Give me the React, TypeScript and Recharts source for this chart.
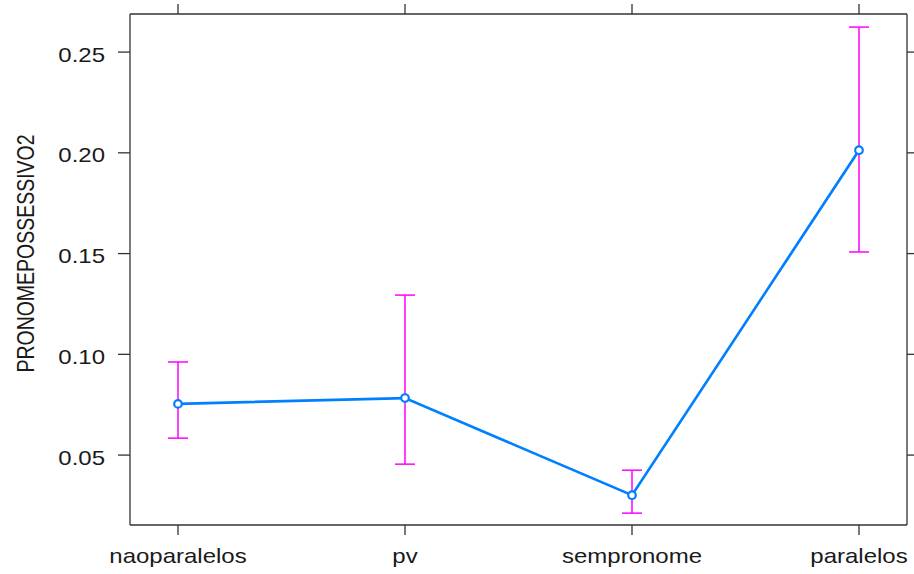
import * as React from "react";
import { ErrorBar, Line, LineChart, XAxis, YAxis } from "recharts";

// Effect plot: estimate of PRONOMEPOSSESSIVO2 per group, with
// confidence interval whiskers (lattice-style box axes).

const CATEGORIES = ["naoparalelos", "pv", "sempronome", "paralelos"];
const ESTIMATES = [0.0754, 0.0783, 0.0301, 0.2013];
const LOWER = [0.0584, 0.0455, 0.0212, 0.1508];
const UPPER = [0.0962, 0.1294, 0.0425, 0.2624];
const Y_TICKS = [0.05, 0.1, 0.15, 0.2, 0.25];
const Y_DOMAIN: [number, number] = [0.0153, 0.2689];

const BLUE = "#0080ff";
const MAGENTA = "#ff00ff";
const AXIS = "#333333";
const TEXT = "#1a1a1a";
const FONT = "'Liberation Sans', Arial, sans-serif";
const STRETCH = 1.2;

const rows = CATEGORIES.map((cat, i) => ({
  cat,
  value: ESTIMATES[i],
  err: [ESTIMATES[i] - LOWER[i], UPPER[i] - ESTIMATES[i]],
}));

function BottomTick(props: any) {
  const { x, y, payload } = props;
  return (
    <text
      transform={`translate(${x},${y + 28}) scale(${STRETCH},1)`}
      textAnchor="middle"
      fontFamily={FONT}
      fontSize={20}
      fill={TEXT}
    >
      {payload.value}
    </text>
  );
}

function LeftTick(props: any) {
  const { y, payload } = props;
  return (
    <text
      transform={`translate(105,${y + 9.5}) scale(${STRETCH},1)`}
      textAnchor="end"
      fontFamily={FONT}
      fontSize={20}
      fill={TEXT}
    >
      {payload.value.toFixed(2)}
    </text>
  );
}

function YLabel(props: any) {
  const { viewBox } = props;
  const cy = viewBox.y + viewBox.height / 2 - 16;
  return (
    <text
      transform={`translate(34,${cy}) scale(${STRETCH},1) rotate(-90)`}
      textAnchor="middle"
      fontFamily={FONT}
      fontSize={19.5}
      fill={TEXT}
    >
      PRONOMEPOSSESSIVO2
    </text>
  );
}

const blank = () => "";

export default function App() {
  return (
    <div style={{ position: "absolute", left: 0, top: 0, background: "#fff" }}>
      <LineChart
        width={914}
        height={574}
        data={rows}
        margin={{ top: 13, right: 6, bottom: 0, left: 0 }}
      >
        <XAxis
          xAxisId="bottom"
          dataKey="cat"
          scale="point"
          padding={{ left: 48, right: 48 }}
          height={49}
          tickSize={10}
          tickMargin={0}
          tick={BottomTick}
          stroke={AXIS}
          strokeWidth={1.3}
          interval={0}
        />
        <XAxis
          xAxisId="top"
          orientation="top"
          dataKey="cat"
          scale="point"
          padding={{ left: 48, right: 48 }}
          height={1}
          tickSize={10}
          tickFormatter={blank}
          stroke={AXIS}
          strokeWidth={1.3}
          interval={0}
        />
        <YAxis
          yAxisId="left"
          domain={Y_DOMAIN}
          ticks={Y_TICKS}
          allowDataOverflow
          width={130}
          tickSize={12}
          tick={LeftTick}
          stroke={AXIS}
          strokeWidth={1.3}
          label={{ content: YLabel }}
        />
        <YAxis
          yAxisId="right"
          orientation="right"
          domain={Y_DOMAIN}
          ticks={Y_TICKS}
          allowDataOverflow
          width={1}
          tickSize={8}
          tickFormatter={blank}
          stroke={AXIS}
          strokeWidth={1.3}
        />
        <Line
          xAxisId="bottom"
          yAxisId="left"
          type="linear"
          dataKey="value"
          stroke={BLUE}
          strokeWidth={2.7}
          dot={{ r: 3.8, stroke: BLUE, strokeWidth: 2.2, fill: "#fff" }}
          isAnimationActive={false}
        >
          <ErrorBar
            dataKey="err"
            direction="y"
            width={10}
            stroke={MAGENTA}
            strokeWidth={1.5}
            isAnimationActive={false}
          />
        </Line>
      </LineChart>
    </div>
  );
}
